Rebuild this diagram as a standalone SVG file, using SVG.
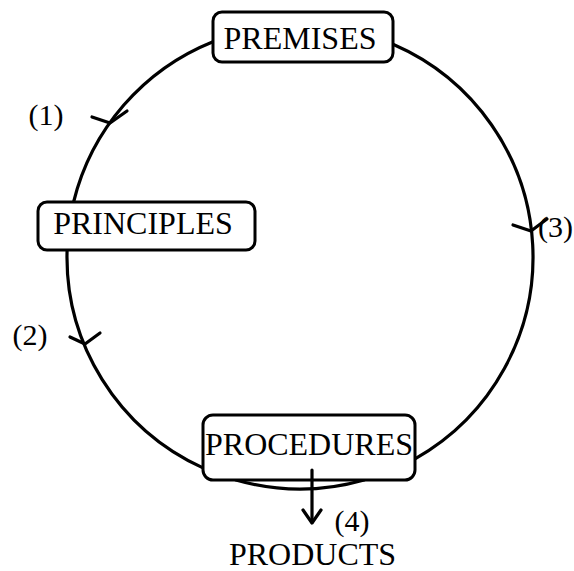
<svg xmlns="http://www.w3.org/2000/svg" width="574" height="571" viewBox="0 0 574 571">
<style>
.box{fill:#fff;stroke:#000;stroke-width:3}
.lbl{font-family:"Liberation Serif","Times New Roman",serif;font-size:32px;fill:#000;text-anchor:middle}
.num{font-family:"Liberation Serif","Times New Roman",serif;font-size:30px;fill:#000;text-anchor:middle}
.ln{fill:none;stroke:#000;stroke-width:3.2;stroke-linecap:round;stroke-linejoin:round}
</style>
<rect width="574" height="571" fill="#fff"/>
<g id="connectors">
<path class="ln" d="M213,41.7 A233,232 0 0 0 73.6,202"/>
<path class="ln" d="M67.1,250 A233,232 0 0 0 203,467.9"/>
<path class="ln" d="M235.8,480 A233,232 0 0 0 364.2,480"/>
<path class="ln" d="M415,458.8 A233,232 0 0 0 393,44.3"/>
<polyline class="ln" points="92,117 110,123 127,111"/>
<polyline class="ln" points="70,337 85,344 100,333"/>
<polyline class="ln" points="513,225 531,231 547,219"/>
<line class="ln" x1="312" y1="470" x2="312" y2="522"/>
<polyline class="ln" points="303,510 312,523 321,510"/>
</g>
<g id="premises">
<rect class="box" x="213" y="12" width="180" height="50" rx="9"/>
<text class="lbl" x="300" y="49">PREMISES</text>
</g>
<g id="principles">
<rect class="box" x="38" y="202" width="217" height="48" rx="9"/>
<text class="lbl" x="143" y="234">PRINCIPLES</text>
</g>
<g id="procedures">
<rect class="box" x="203" y="415" width="212" height="65" rx="10"/>
<text class="lbl" x="309" y="455" textLength="208" lengthAdjust="spacingAndGlyphs">PROCEDURES</text>
</g>
<line class="ln" x1="312" y1="470" x2="312" y2="480"/>
<g id="products">
<text class="lbl" x="312.5" y="565">PRODUCTS</text>
</g>
<g id="labels">
<text class="num" x="46" y="125">(1)</text>
<text class="num" x="30" y="345">(2)</text>
<text class="num" x="573" y="237" style="text-anchor:end">(3)</text>
<text class="num" x="352" y="531">(4)</text>
</g>
</svg>
